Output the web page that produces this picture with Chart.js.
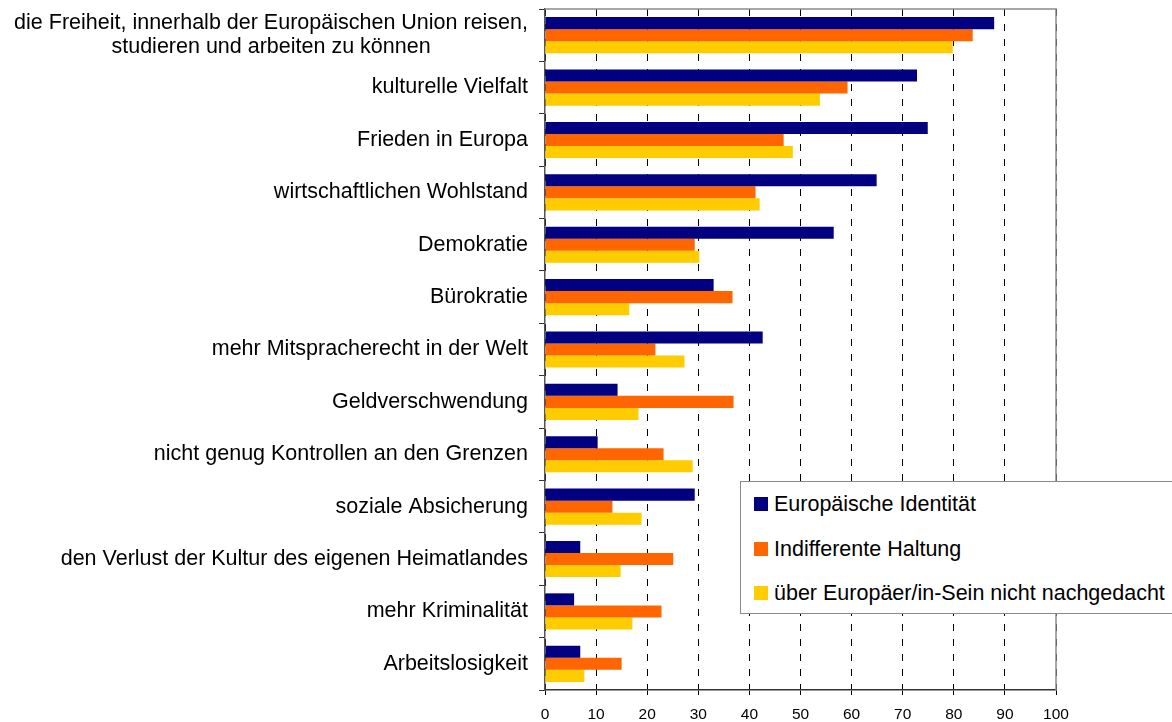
<!DOCTYPE html>
<html>
<head>
<meta charset="utf-8">
<script src="https://cdn.jsdelivr.net/npm/chart.js@4"></script>
<style>
  body { margin: 0; background: #fff; font-family: 'Liberation Sans', Arial, sans-serif; }
  #wrap { position: relative; width: 1172px; height: 722px; overflow: hidden; }
  #legende {
    position: absolute; left: 740px; top: 481px; width: 445px; height: 133px;
    background: #fff; border: 1.5px solid #8a8a8a; box-sizing: border-box;
  }
  .item { position: absolute; left: 13px; height: 24px; display: flex; align-items: center;
    font-size: 21.5px; color: #000; white-space: nowrap; }
  .item span.box { display: inline-block; width: 14px; height: 14px; margin-right: 6px; }
</style>
</head>
<body>
<div id="wrap">
  <canvas id="chartEuropa" width="1172" height="722"></canvas>
  <div id="legende"></div>
</div>
<script>
// Kategorien von oben nach unten
const kategorien = [
    ['die Freiheit, innerhalb der Europäischen Union reisen,', 'studieren und arbeiten zu können'],
    'kulturelle Vielfalt',
    'Frieden in Europa',
    'wirtschaftlichen Wohlstand',
    'Demokratie',
    'Bürokratie',
    'mehr Mitspracherecht in der Welt',
    'Geldverschwendung',
    'nicht genug Kontrollen an den Grenzen',
    'soziale Absicherung',
    'den Verlust der Kultur des eigenen Heimatlandes',
    'mehr Kriminalität',
    'Arbeitslosigkeit'
];

const serienNamen = ['Europäische Identität', 'Indifferente Haltung', 'über Europäer/in-Sein nicht nachgedacht'];
const serienFarben = ['#000080', '#ff6600', '#ffcc00'];

const identitaet = [87.9, 72.8, 74.9, 64.9, 56.5, 33.0, 42.6, 14.2, 10.3, 29.3, 6.9, 5.7, 6.9];
const indifferent = [83.7, 59.2, 46.7, 41.2, 29.3, 36.7, 21.6, 36.9, 23.2, 13.2, 25.1, 22.8, 15.0];
const nichtNachgedacht = [79.8, 53.8, 48.5, 42.0, 30.2, 16.5, 27.3, 18.3, 28.9, 18.9, 14.8, 17.1, 7.7];

const xTicks = [0, 10, 20, 30, 40, 50, 60, 70, 80, 90, 100];

const schrift = "'Liberation Sans', Arial, sans-serif";

// Rahmen um die Zeichenfläche
const rahmenPlugin = {
    id: 'rahmen',
    afterDatasetsDraw(chart) {
        const a = chart.chartArea;
        const ctx = chart.ctx;
        ctx.save();
        ctx.strokeStyle = '#8a8a8a';
        ctx.lineWidth = 1.5;
        ctx.beginPath();
        ctx.moveTo(a.left, a.top);
        ctx.lineTo(a.right, a.top);
        ctx.lineTo(a.right, a.bottom);
        ctx.stroke();
        ctx.restore();
    }
};

// Beschriftung der Kategorien (mehrzeilig zentriert, Block rechtsbündig)
const labelPlugin = {
    id: 'kategorieLabels',
    afterDraw(chart) {
        const scale = chart.scales.y;
        const ctx = chart.ctx;
        const rechts = scale.right - 17;
        const zeilenHoehe = 24.5;
        ctx.save();
        ctx.font = '21.5px ' + schrift;
        ctx.fillStyle = '#000';
        ctx.textAlign = 'center';
        ctx.textBaseline = 'middle';
        kategorien.forEach((label, i) => {
            const zeilen = Array.isArray(label) ? label : [label];
            const breite = Math.max(...zeilen.map(z => ctx.measureText(z).width));
            const mitteX = rechts - breite / 2;
            const mitteY = scale.getPixelForValue(i);
            zeilen.forEach((z, j) => {
                ctx.fillText(z, mitteX, mitteY + (j - (zeilen.length - 1) / 2) * zeilenHoehe);
            });
        });
        ctx.restore();
    }
};

function erstelleLegende() {
    const box = document.getElementById('legende');
    const tops = [10, 55, 99];
    serienNamen.forEach((name, i) => {
        const div = document.createElement('div');
        div.className = 'item';
        div.style.top = tops[i] + 'px';
        div.innerHTML = '<span class="box" style="background:' + serienFarben[i] + '"></span>' + name;
        box.appendChild(div);
    });
}

function erstelleChart() {
    const ctx = document.getElementById('chartEuropa').getContext('2d');
    const serien = [identitaet, indifferent, nichtNachgedacht];
    new Chart(ctx, {
        type: 'bar',
        data: {
            labels: kategorien.map(k => Array.isArray(k) ? k.join(' ') : k),
            datasets: serien.map((werte, i) => ({
                label: serienNamen[i],
                data: werte,
                backgroundColor: serienFarben[i],
                borderWidth: 0,
                categoryPercentage: 0.69,
                barPercentage: 1.0
            }))
        },
        options: {
            indexAxis: 'y',
            responsive: false,
            animation: false,
            layout: { padding: { top: 9, right: 116, left: 0, bottom: 0 } },
            plugins: {
                legend: { display: false },
                tooltip: { enabled: false }
            },
            scales: {
                x: {
                    min: 0,
                    max: 100,
                    afterBuildTicks(scale) {
                        scale.ticks = xTicks.map(v => ({ value: v }));
                    },
                    afterFit(scale) { scale.height = 32; },
                    ticks: {
                        color: '#000',
                        font: { family: schrift, size: 15.5 },
                        padding: 10,
                        maxRotation: 0
                    },
                    grid: {
                        color: '#000',
                        lineWidth: 1,
                        tickLength: 5,
                        tickColor: '#000'
                    },
                    border: { display: true, color: '#333', width: 1.5, dash: [7, 8] }
                },
                y: {
                    afterFit(scale) { scale.width = 545; },
                    ticks: { display: false },
                    grid: {
                        drawOnChartArea: false,
                        offset: true,
                        tickLength: 6,
                        tickColor: '#333'
                    },
                    border: { display: true, color: '#555', width: 1.5 }
                }
            }
        },
        plugins: [rahmenPlugin, labelPlugin]
    });
}

document.addEventListener('DOMContentLoaded', () => {
    erstelleLegende();
    erstelleChart();
});
</script>
</body>
</html>
